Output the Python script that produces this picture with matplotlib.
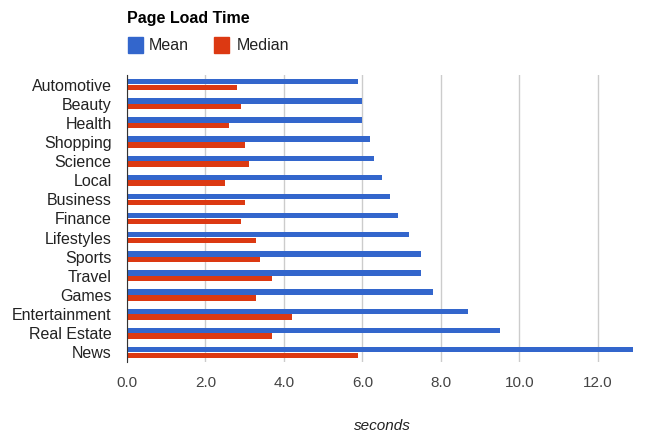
import matplotlib
matplotlib.use("Agg")
import matplotlib.pyplot as plt
from matplotlib.patches import Rectangle
import numpy as np

plt.rcParams['font.family'] = ['Liberation Sans', 'DejaVu Sans']

# page load time by category (seconds)
categories = ["Automotive", "Beauty", "Health", "Shopping", "Science", "Local",
              "Business", "Finance", "Lifestyles", "Sports", "Travel", "Games",
              "Entertainment", "Real Estate", "News"]
mean_vals = [5.9, 6.0, 6.0, 6.2, 6.3, 6.5, 6.7, 6.9, 7.2, 7.5, 7.5, 7.8, 8.7, 9.5, 12.9]
median_vals = [2.8, 2.9, 2.6, 3.0, 3.1, 2.5, 3.0, 2.9, 3.3, 3.4, 3.7, 3.3, 4.2, 3.7, 5.9]
xticks = [0, 2, 4, 6, 8, 10, 12]

blue = "#3366cc"
red = "#dc3912"

fig = plt.figure(figsize=(6.64, 4.43), dpi=100)
ax = fig.add_axes([127 / 664, 1 - 362 / 443, 510 / 664, 287 / 443])

y = np.arange(len(categories))
ax.barh(y - 0.15, mean_vals, height=0.28, color=blue, zorder=3)
ax.barh(y + 0.15, median_vals, height=0.28, color=red, zorder=3)

ax.set_ylim(len(categories) - 0.5, -0.5)
ax.set_xlim(0, 13)
ax.set_yticks(y)
ax.set_yticklabels(categories, fontsize=11.5, color="#222222")
ax.set_xticks(xticks)
ax.set_xticklabels([f"{v:.1f}" for v in xticks], fontsize=11, color="#444444")
ax.tick_params(length=0)
ax.tick_params(axis="x", pad=10)
ax.tick_params(axis="y", pad=11)

ax.grid(axis="x", color="#cccccc", linewidth=1, zorder=0)
for s in ["top", "right", "bottom"]:
    ax.spines[s].set_visible(False)
ax.spines["left"].set_color("#333333")
ax.spines["left"].set_zorder(4)

ax.set_xlabel("seconds", fontsize=11, style="italic", color="#222222", labelpad=21)

# title and legend
fig.text(127 / 664, 1 - 19 / 443, "Page Load Time", fontsize=11.5, fontweight="bold",
         va="center", ha="left", color="#000000")
ly = 1 - 45 / 443
fig.patches.append(Rectangle((128 / 664, ly - 7.5 / 443), 15 / 664, 15 / 443,
                             transform=fig.transFigure, color=blue))
fig.text(149 / 664, ly, "Mean", fontsize=11.5, va="center", ha="left", color="#222222")
fig.patches.append(Rectangle((214 / 664, ly - 7.5 / 443), 15 / 664, 15 / 443,
                             transform=fig.transFigure, color=red))
fig.text(237 / 664, ly, "Median", fontsize=11.5, va="center", ha="left", color="#222222")

fig.savefig("out.png", dpi=100)
